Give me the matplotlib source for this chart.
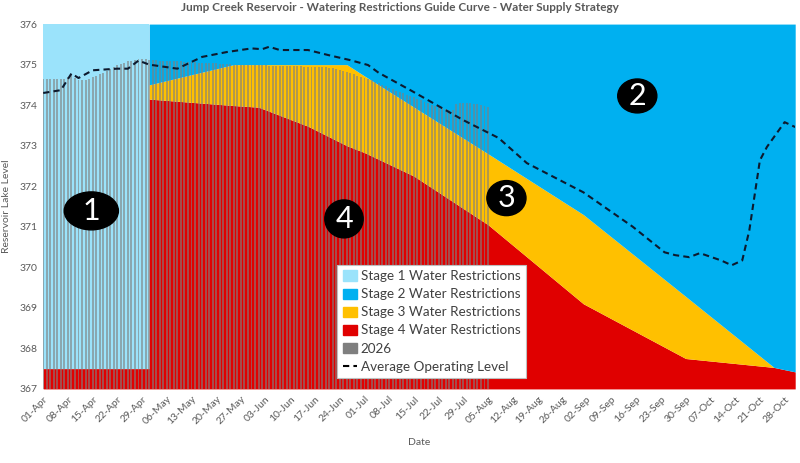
import matplotlib
matplotlib.use("Agg")
import matplotlib.pyplot as plt
import matplotlib.dates as mdates
from matplotlib.patches import Ellipse, Patch
from matplotlib.lines import Line2D
import pandas as pd

YEAR = "2026-"

# guide curve break points (upper edge of each stage band)
guide_dates = ["04-01", "05-01", "05-01", "05-25", "06-01", "06-15", "06-26",
               "07-01", "07-15", "08-05", "09-01", "09-30", "10-25", "10-31"]
stage4_top = [367.5, 367.5, 374.15, 373.99, 373.95, 373.48, 373.00,
              372.83, 372.25, 371.05, 369.10, 367.75, 367.53, 367.42]
stage3_top = [367.5, 367.5, 374.50, 375.00, 375.00, 375.00, 375.00,
              374.72, 373.95, 372.80, 371.30, 369.28, 367.53, 367.42]
stage2_top = [367.5, 367.5, 376.0, 376.0, 376.0, 376.0, 376.0,
              376.0, 376.0, 376.0, 376.0, 376.0, 376.0, 376.0]

# average operating level
avg_dates = ["04-01", "04-06", "04-09", "04-11", "04-15", "04-22", "04-25", "04-28",
             "05-01", "05-09", "05-16", "05-23", "05-30", "06-02", "06-04", "06-07",
             "06-15", "06-21", "06-27", "07-02", "07-05", "07-14", "07-29", "08-08",
             "08-16", "09-01", "09-15", "09-24", "09-27", "10-01", "10-04", "10-10",
             "10-13", "10-16", "10-18", "10-21", "10-23", "10-28", "10-31"]
avg_level = [374.30, 374.37, 374.78, 374.67, 374.86, 374.90, 374.90, 375.10,
             375.00, 374.90, 375.19, 375.31, 375.40, 375.38, 375.44, 375.36,
             375.36, 375.23, 375.11, 374.99, 374.80, 374.37, 373.63, 373.19,
             372.57, 371.85, 371.00, 370.37, 370.30, 370.25, 370.35, 370.17,
             370.05, 370.17, 370.91, 372.64, 372.97, 373.58, 373.46]

# 2026 daily levels, 01-Apr .. 05-Aug
level_2026 = [
    # April
    374.65, 374.65, 374.65, 374.65, 374.65, 374.65, 374.65, 374.70, 374.74, 374.66,
    374.62, 374.62, 374.63, 374.65, 374.69, 374.72, 374.76, 374.80, 374.84, 374.88,
    374.93, 374.98, 375.02, 375.05, 375.08, 375.10, 375.12, 375.14, 375.14, 375.13,
    # May
    375.12, 375.11, 375.11, 375.10, 375.10, 375.10, 375.09, 375.09, 375.08, 375.08,
    375.07, 375.07, 375.06, 375.06, 375.05, 375.05, 375.04, 375.04, 375.03, 375.03,
    375.02, 375.02, 375.01, 375.01, 375.00, 375.00, 374.99, 374.99, 374.99, 374.98,
    374.98,
    # June
    374.98, 374.98, 374.98, 374.97, 374.97, 374.97, 374.97, 374.97, 374.96, 374.96,
    374.96, 374.96, 374.96, 374.95, 374.95, 374.95, 374.95, 374.95, 374.94, 374.93,
    374.92, 374.91, 374.89, 374.87, 374.85, 374.82, 374.79, 374.76, 374.73, 374.70,
    # July
    374.67, 374.64, 374.61, 374.57, 374.54, 374.50, 374.47, 374.43, 374.40, 374.36,
    374.33, 374.29, 374.26, 374.22, 374.19, 374.15, 374.12, 374.08, 374.05, 374.01,
    373.98, 373.95, 373.92, 373.90, 373.88, 373.87, 374.03, 374.05, 374.05, 374.06,
    374.05,
    # August
    374.04, 374.03, 374.00, 373.97, 373.95,
]

C_STAGE1 = "#9be3fb"
C_STAGE2 = "#00b0f0"
C_STAGE3 = "#ffc000"
C_STAGE4 = "#e00000"
C_2026 = "#7f7f7f"
TXT = "#595959"

plt.rcParams["font.family"] = ["Lato", "DejaVu Sans"]

gd = pd.to_datetime([YEAR + d for d in guide_dates])
ad = pd.to_datetime([YEAR + d for d in avg_dates])
bd = pd.date_range(YEAR + "04-01", periods=len(level_2026), freq="D")

fig = plt.figure(figsize=(8, 4.63), dpi=100)
ax = fig.add_axes([0.054, 0.160, 0.940, 0.788])

BASE = 367
TOP = 376
ax.fill_between(gd, BASE, stage4_top, color=C_STAGE4, lw=0)
ax.fill_between(gd, stage4_top, stage3_top, color=C_STAGE3, lw=0)
ax.fill_between(gd, stage3_top, stage2_top, color=C_STAGE2, lw=0)
ax.fill_between(gd, stage2_top, TOP, color=C_STAGE1, lw=0)

ax.bar(bd, [v - BASE for v in level_2026], bottom=BASE, width=0.55,
       color=C_2026, alpha=0.6, lw=0)

ax.plot(ad, avg_level, color="#0d1a2e", lw=1.5, ls=(0, (3, 2)))

ax.set_ylim(BASE, TOP)
ax.set_xlim(pd.Timestamp(YEAR + "04-01"), pd.Timestamp(YEAR + "10-31"))
ax.set_yticks(range(BASE, TOP + 1))
ax.set_xticks(pd.date_range(YEAR + "04-01", YEAR + "10-31", freq="7D"))
ax.xaxis.set_major_formatter(mdates.DateFormatter("%d-%b"))
ax.tick_params(length=0, labelsize=7.5, labelcolor=TXT, pad=4)
plt.setp(ax.get_xticklabels(), rotation=45, ha="right", rotation_mode="anchor")
for s in ax.spines.values():
    s.set_visible(False)

ax.set_ylabel("Reservoir Lake Level", fontsize=7.5, color=TXT, labelpad=6)
ax.set_xlabel("Date", fontsize=7.5, color=TXT, labelpad=8)
fig.text(0.5, 0.983, "Jump Creek Reservoir - Watering Restrictions Guide Curve - Water Supply Strategy",
         ha="center", va="center", fontsize=8.5, fontweight="bold", color=TXT)

# stage markers
for label, cx, cy, w, h in [("1", 0.064, 0.488, 0.072, 0.104),
                            ("4", 0.400, 0.466, 0.051, 0.104),
                            ("2", 0.790, 0.803, 0.052, 0.093),
                            ("3", 0.616, 0.523, 0.052, 0.096)]:
    ax.add_patch(Ellipse((cx, cy), w, h, transform=ax.transAxes, color="black", zorder=5))
    ax.text(cx, cy, label, transform=ax.transAxes, ha="center", va="center",
            fontsize=22, color="white", zorder=6)

handles = [Patch(color=C_STAGE1), Patch(color=C_STAGE2), Patch(color=C_STAGE3),
           Patch(color=C_STAGE4), Patch(color=C_2026),
           Line2D([], [], color="black", lw=1.5, ls=(0, (3, 2)))]
labels = ["Stage 1 Water Restrictions", "Stage 2 Water Restrictions",
          "Stage 3 Water Restrictions", "Stage 4 Water Restrictions",
          "2026", "Average Operating Level"]
leg = ax.legend(handles, labels, loc="lower left", bbox_to_anchor=(0.391, 0.03),
                fontsize=9.7, frameon=True, fancybox=False, framealpha=1,
                edgecolor="#bfbfbf", handlelength=1.1, handleheight=0.8,
                handletextpad=0.25, labelspacing=0.45, borderpad=0.4,
                borderaxespad=0)
for t in leg.get_texts():
    t.set_color("#404040")
leg.get_frame().set_linewidth(0.8)

fig.savefig("out.png", dpi=100)
